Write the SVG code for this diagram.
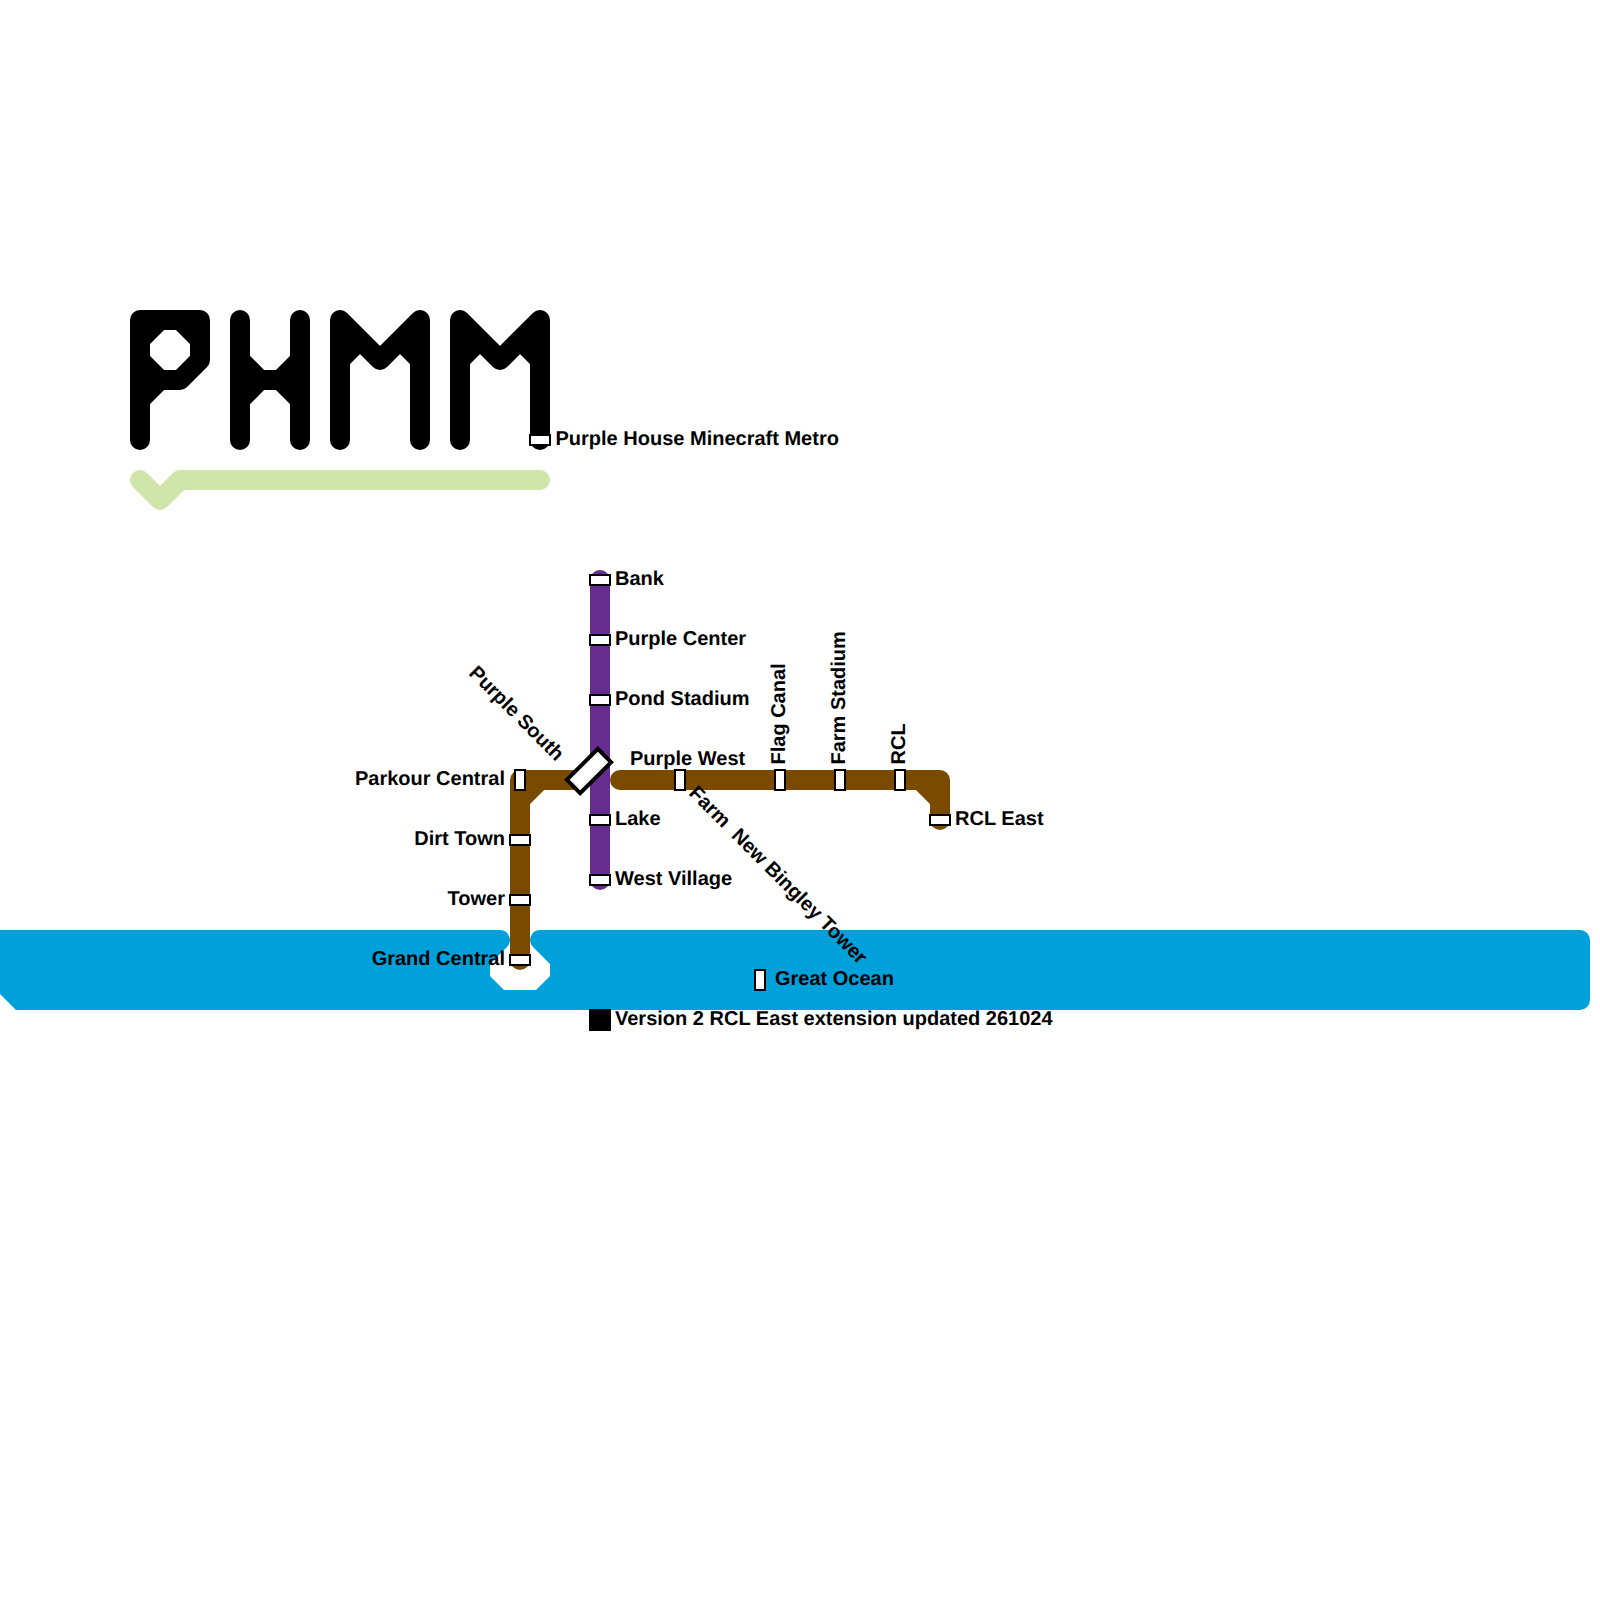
<svg xmlns="http://www.w3.org/2000/svg" width="1600" height="1600" viewBox="0 0 1600 1600">
<style>
text{font-family:"Liberation Sans",Arial,sans-serif;font-size:20px;font-weight:bold;fill:#000;text-rendering:geometricPrecision}
.l{fill:none;stroke-width:20;stroke-linecap:round;stroke-linejoin:round}
.k{stroke:#000}.g{stroke:#cfe4a7}.p{stroke:#662c90}.b{stroke:#7a4a00}
.s{fill:#fff;stroke:#000;stroke-width:2}
.e{text-anchor:end}
</style>
<rect width="1600" height="1600" fill="#fff"/>
<g id="connectors">
<path id="logo-P" class="l k" d="M140 440V320H200V360L180 380H160L140 400M140 340L160 320H180L200 340M140 360L160 380"/>
<path id="logo-H" class="l k" d="M240 320V440M300 320V440M240 360L260 380H280L300 360M240 400L260 380M280 380L300 400"/>
<path id="logo-M1" class="l k" d="M340 440V320L380 360L420 320V440M340 360L360 340M420 360L400 340"/>
<path id="logo-M2" class="l k" d="M460 440V320L500 360L540 320V440M460 360L480 340M540 360L520 340"/>
<path id="logo-underline" class="l g" d="M140 480L160 500L180 480H540"/>
<path id="ocean" fill="#00a1da" d="M-10 930H500A10 10 0 0 1 507 947L490 964V976L504 990H536L550 976V964L533 947A10 10 0 0 1 540 930H1580A10 10 0 0 1 1590 940V1000A10 10 0 0 1 1580 1010H16L0 994Z"/>
<path id="brown-west" class="l b" d="M520 960V800L540 780H580M520 800V780H540"/>
<path id="brown-east" class="l b" d="M620 780H940V820M920 780L940 800"/>
<path id="purple" class="l p" d="M600 580V880"/>
</g>
<g id="n-metro"><rect class="s" x="530" y="435" width="20" height="10"/><text x="555.500" y="445">Purple House Minecraft Metro</text></g>
<g id="n-bank"><rect class="s" x="590" y="575" width="20" height="10"/><text x="615" y="585">Bank</text></g>
<g id="n-center"><rect class="s" x="590" y="635" width="20" height="10"/><text x="615" y="645">Purple Center</text></g>
<g id="n-pond"><rect class="s" x="590" y="695" width="20" height="10"/><text x="615" y="705">Pond Stadium</text></g>
<g id="n-lake"><rect class="s" x="590" y="815" width="20" height="10"/><text x="615" y="825">Lake</text></g>
<g id="n-west-village"><rect class="s" x="590" y="875" width="20" height="10"/><text x="615" y="885">West Village</text></g>
<g id="n-south"><rect x="567.100" y="761.600" width="43.800" height="18.800" fill="#fff" stroke="#000" stroke-width="4" transform="rotate(-45 589 771)"/><text class="e" transform="translate(556 762) rotate(45)">Purple South</text></g>
<g id="n-parkour"><rect class="s" x="515" y="770" width="10" height="20"/><text class="e" x="505" y="785">Parkour Central</text></g>
<g id="n-dirt"><rect class="s" x="510" y="835" width="20" height="10"/><text class="e" x="505" y="845">Dirt Town</text></g>
<g id="n-tower"><rect class="s" x="510" y="895" width="20" height="10"/><text class="e" x="505" y="905">Tower</text></g>
<g id="n-grand"><rect class="s" x="510" y="955" width="20" height="10"/><text class="e" x="505" y="965">Grand Central</text></g>
<g id="n-purple-west"><rect class="s" x="675" y="770" width="10" height="20"/><text x="630" y="765">Purple West</text></g>
<g id="n-farm"><text transform="translate(688 794) rotate(45)" xml:space="preserve">Farm  New Bingley Tower</text></g>
<g id="n-flag"><rect class="s" x="775" y="770" width="10" height="20"/><text transform="translate(785 764.500) rotate(-90)">Flag Canal</text></g>
<g id="n-stadium"><rect class="s" x="835" y="770" width="10" height="20"/><text transform="translate(845 764.500) rotate(-90)">Farm Stadium</text></g>
<g id="n-rcl"><rect class="s" x="895" y="770" width="10" height="20"/><text transform="translate(905 764.500) rotate(-90)">RCL</text></g>
<g id="n-rcl-east"><rect class="s" x="930" y="815" width="20" height="10"/><text x="955" y="825">RCL East</text></g>
<g id="n-ocean"><rect class="s" x="755" y="970" width="10" height="20"/><text x="775" y="985">Great Ocean</text></g>
<g id="n-version"><rect x="590" y="1010" width="20" height="20" fill="#000" stroke="#000" stroke-width="2"/><text x="615" y="1025">Version 2 RCL East extension updated 261024</text></g>
</svg>
